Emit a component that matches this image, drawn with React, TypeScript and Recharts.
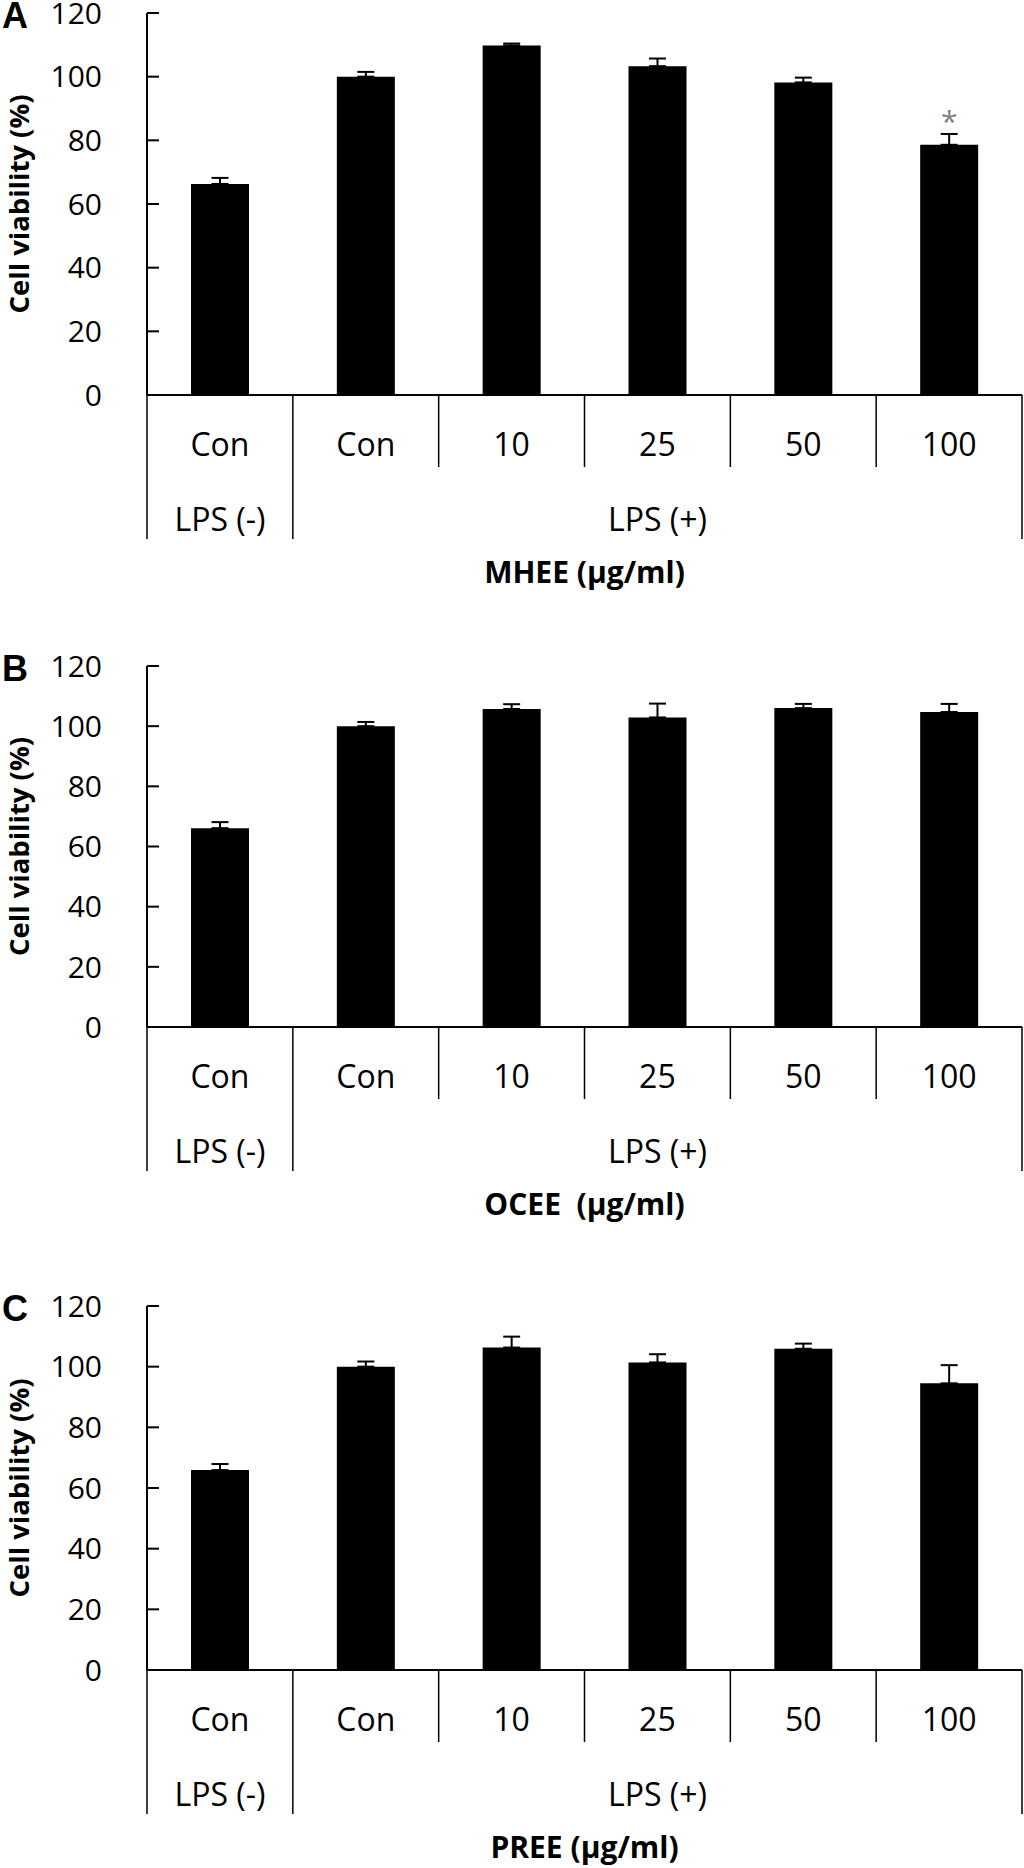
import React from 'react';
import { BarChart, Bar, XAxis, YAxis, ErrorBar, LabelList } from 'recharts';

// ---- data ----
const categories = ['Con', 'Con', '10', '25', '50', '100'];
const groups = [
  { label: 'LPS (-)', from: 0, to: 0 },
  { label: 'LPS (+)', from: 1, to: 5 },
];
const yTicks = [0, 20, 40, 60, 80, 100, 120];

const mheeValues = [66.3, 100, 109.8, 103.3, 98.2, 78.6];
const mheeErrors = [1.9, 1.5, 0.6, 2.4, 1.5, 3.4];
const mheeMarks = ['', '', '', '', '', '*'];

const oceeValues = [66.1, 100, 105.7, 102.9, 106.0, 104.7];
const oceeErrors = [2.0, 1.4, 1.6, 4.6, 1.4, 2.7];
const oceeMarks = ['', '', '', '', '', ''];

const preeValues = [65.9, 100, 106.3, 101.4, 105.9, 94.5];
const preeErrors = [2.0, 1.7, 3.6, 2.7, 1.7, 6.0];
const preeMarks = ['', '', '', '', '', ''];

// ---- layout ----
const FONT = '"Open Sans", "DejaVu Sans", sans-serif';
const LETTER_FONT = '"Liberation Sans", Arial, sans-serif';

const panels = [
  { letter: 'A', title: 'MHEE (µg/ml)', values: mheeValues, errors: mheeErrors, marks: mheeMarks, top: 0, marginTop: 13, plotH: 382, axisH: 200 },
  { letter: 'B', title: 'OCEE\u00a0 (µg/ml)', values: oceeValues, errors: oceeErrors, marks: oceeMarks, top: 646, marginTop: 20, plotH: 361, axisH: 200 },
  { letter: 'C', title: 'PREE (µg/ml)', values: preeValues, errors: preeErrors, marks: preeMarks, top: 1286, marginTop: 20, plotH: 364, axisH: 198 },
];

const YAXIS_WIDTH = 147;
const Y_LABEL_GAP = 45;
const Y_TICK_LEN = 12;

const YTick = (props: any) => {
  const { y, payload } = props;
  const axisX = YAXIS_WIDTH;
  return (
    <g>
      <line x1={axisX} y1={y} x2={axisX + Y_TICK_LEN} y2={y} stroke="#000" strokeWidth={2} />
      <text x={axisX - Y_LABEL_GAP} y={y} dy="0.36em" textAnchor="end" fontSize={30} fontFamily={FONT} fill="#000">
        {payload.value}
      </text>
    </g>
  );
};

const CategoryTick = (props: any) => {
  const { x, y, payload, index } = props;
  const i: number = payload && typeof payload.index === 'number' ? payload.index : index;
  const half: number = payload && typeof payload.offset === 'number' && payload.offset > 0 ? payload.offset : 72.9;
  const groupStart = groups.some((g) => g.from === i);
  const isLast = i === categories.length - 1;
  const group = groups.find((g) => (g.from + g.to) / 2 === i);
  return (
    <g>
      <line x1={x - half} y1={y} x2={x - half} y2={y + (groupStart ? 144 : 72)} stroke="#000" strokeWidth={1.5} />
      {isLast && <line x1={x + half} y1={y} x2={x + half} y2={y + 144} stroke="#000" strokeWidth={1.5} />}
      <text x={x} y={y + 61} textAnchor="middle" fontSize={32} fontFamily={FONT} fill="#000">
        {categories[i]}
      </text>
      {group && (
        <text x={x} y={y + 136} textAnchor="middle" fontSize={32} fontFamily={FONT} fill="#000">
          {group.label}
        </text>
      )}
    </g>
  );
};

const makeXTitle = (title: string) => (props: any) => {
  const vb = props.viewBox || {};
  const cx = vb.x + vb.width / 2;
  return (
    <text x={cx} y={vb.y + 188} textAnchor="middle" fontSize={30} fontWeight="bold" fontFamily={FONT} fill="#000" style={{ whiteSpace: 'pre' }}>
      {title}
    </text>
  );
};

const makeYTitle = (letter: string) => (props: any) => {
  const vb = props.viewBox || {};
  const cy = vb.y + vb.height / 2;
  const tx = 18;
  return (
    <g>
      <text
        x={tx}
        y={cy}
        transform={`rotate(-90, ${tx}, ${cy})`}
        textAnchor="middle"
        dominantBaseline="central"
        fontSize={27.5}
        fontWeight="bold"
        fontFamily={FONT}
        fill="#000"
      >
        Cell viability (%)
      </text>
      <text x={15} y={vb.y + 15} textAnchor="middle" fontSize={36} fontWeight="bold" fontFamily={LETTER_FONT} fill="#000">
        {letter}
      </text>
    </g>
  );
};

const StarLabel = (props: any) => {
  const { x, y, width, value } = props;
  if (!value) return null;
  return (
    <text x={x + width / 2} y={y - 13} textAnchor="middle" fontSize={30} fontFamily={FONT} fill="#808080">
      {value}
    </text>
  );
};

const Panel = ({ p }: { p: (typeof panels)[number] }) => {
  const data = categories.map((c, i) => ({
    key: `c${i}`,
    label: c,
    value: p.values[i],
    err: [0, p.errors[i]],
    mark: p.marks[i],
  }));
  const height = p.marginTop + p.plotH + p.axisH;
  return (
    <div style={{ position: 'absolute', left: 0, top: p.top, width: 1024, height }}>
      <BarChart
        width={1024}
        height={height}
        data={data}
        margin={{ top: p.marginTop, right: 2, bottom: 0, left: 0 }}
        style={{ overflow: 'visible' }}
      >
        <XAxis
          dataKey="key"
          interval={0}
          height={p.axisH}
          tickSize={0}
          tickMargin={0}
          tickLine={false}
          axisLine={{ stroke: '#000', strokeWidth: 2 }}
          tick={<CategoryTick />}
          label={{ content: makeXTitle(p.title) } as any}
        />
        <XAxis xAxisId="top" orientation="top" dataKey="key" height={0} tick={false} tickLine={false} axisLine={{ stroke: '#000', strokeWidth: 2 }} />
        <YAxis
          domain={[0, 120]}
          ticks={yTicks}
          interval={0}
          width={YAXIS_WIDTH}
          tickSize={0}
          tickLine={false}
          tick={<YTick />}
          axisLine={{ stroke: '#000', strokeWidth: 2 }}
          label={{ content: makeYTitle(p.letter) } as any}
        />
        <YAxis yAxisId="right" orientation="right" domain={[0, 120]} width={0} tick={false} tickLine={false} axisLine={{ stroke: '#000', strokeWidth: 2 }} />
        <Bar dataKey="value" fill="#000" barSize={58} isAnimationActive={false}>
          <ErrorBar dataKey="err" width={8.5} stroke="#000" strokeWidth={2} direction="y" />
          <LabelList dataKey="mark" content={<StarLabel />} />
        </Bar>
      </BarChart>
    </div>
  );
};

export default function App() {
  return (
    <div style={{ position: 'absolute', left: 0, top: 0, width: 1024, height: 1868, background: '#fff' }}>
      {panels.map((p) => (
        <Panel key={p.letter} p={p} />
      ))}
    </div>
  );
}
